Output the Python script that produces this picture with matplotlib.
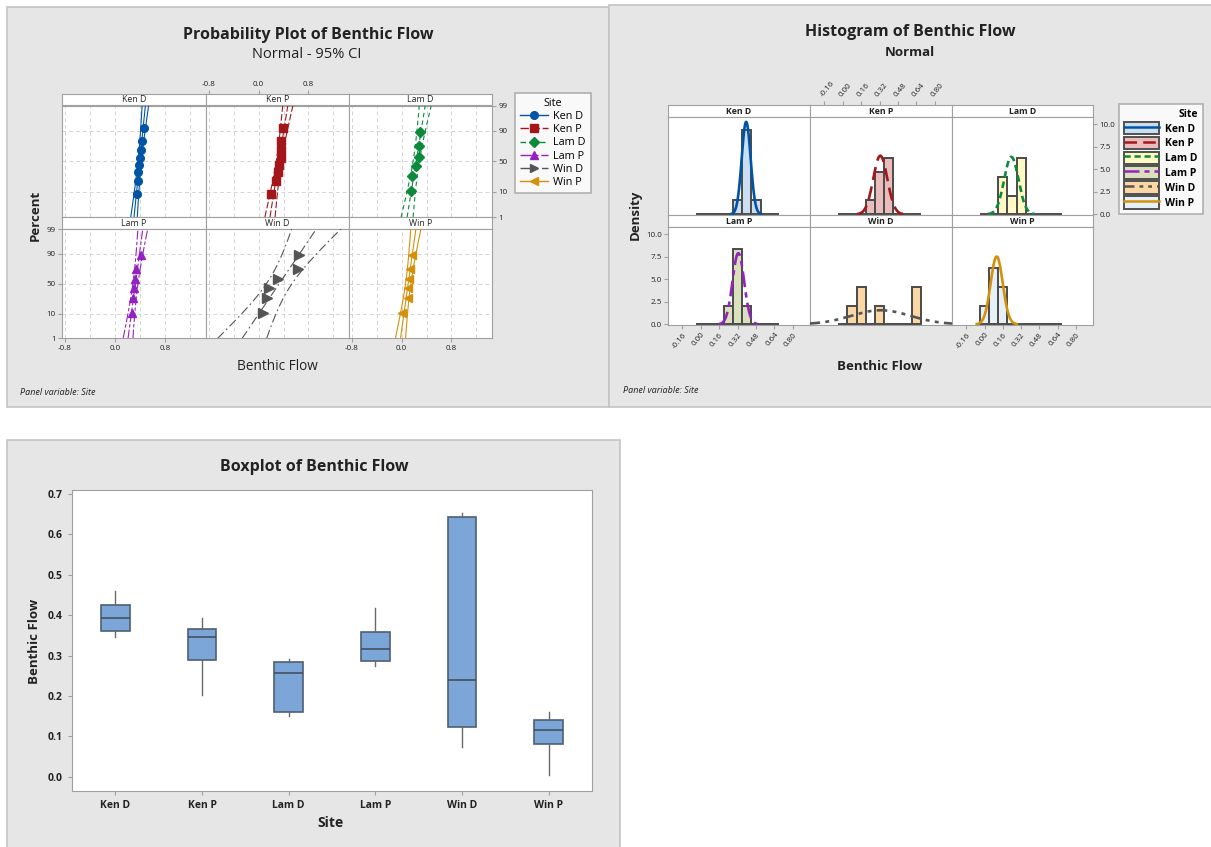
import statistics

import matplotlib.pyplot as plt
import numpy as np
from matplotlib.lines import Line2D
from matplotlib.patches import Patch, Rectangle

W, H = 1211, 847

plt.rcParams["font.family"] = ["Open Sans", "DejaVu Sans"]

# benthic flow observations per site
sites = ["Ken D", "Ken P", "Lam D", "Lam P", "Win D", "Win P"]
ken_d = [0.345, 0.3605, 0.361, 0.385, 0.402, 0.415, 0.428, 0.459]
ken_p = [0.202, 0.285, 0.305, 0.330, 0.3615, 0.363, 0.366, 0.394]
lam_d = [0.150, 0.165, 0.236, 0.2805, 0.281, 0.292]
lam_p = [0.274, 0.292, 0.310, 0.323, 0.339, 0.418]
win_d = [0.073, 0.139, 0.170, 0.309, 0.639, 0.652]
win_p = [0.005, 0.1063, 0.111, 0.119, 0.1333, 0.160]
flow = dict(zip(sites, [ken_d, ken_p, lam_d, lam_p, win_d, win_p]))

pct_ticks = [1, 10, 50, 90, 99]
pp_xticks = [-0.8, 0.0, 0.8]
hist_xticks = [-0.16, 0.0, 0.16, 0.32, 0.48, 0.64, 0.80]
hist_yticks = [0.0, 2.5, 5.0, 7.5, 10.0]
bin_edges = np.linspace(-0.04, 0.68, 10)

line_col = {"Ken D": "#0054A6", "Ken P": "#A3171B", "Lam D": "#0A8A3A",
            "Lam P": "#9422C0", "Win D": "#555555", "Win P": "#D4900A"}
fill_col = {"Ken D": "#CADDF1", "Ken P": "#EABCBC", "Lam D": "#FFF9C4",
            "Lam P": "#DADFBC", "Win D": "#FBD7A3", "Win P": "#E6F0F8"}
markers = {"Ken D": "o", "Ken P": "s", "Lam D": "D", "Lam P": "^",
           "Win D": ">", "Win P": "<"}
pp_ls = {"Ken D": "-", "Ken P": (0, (6, 2)), "Lam D": (0, (4, 3)),
         "Lam P": (0, (8, 2, 3, 2)), "Win D": (0, (8, 3, 1.5, 3)), "Win P": "-"}
hist_ls = {"Ken D": "-", "Ken P": (0, (5, 2.5)), "Lam D": (0, (2.5, 1.5)),
           "Lam P": (0, (6, 2, 2, 2)), "Win D": (0, (4, 2, 1.5, 2, 1.5, 2)),
           "Win P": "-"}

FRAME = "#A0A0A0"
TXT = "#222222"
norm = statistics.NormalDist()


def box(x0, y0, x1, y1):
    return [x0 / W, 1 - y1 / H, (x1 - x0) / W, (y1 - y0) / H]


def fig_text(x, y, s, **kw):
    fig.text(x / W, 1 - y / H, s, color=TXT, **kw)


def background(x0, y0, x1, y1):
    fig.add_artist(Rectangle((x0 / W, 1 - y1 / H), (x1 - x0) / W, (y1 - y0) / H,
                             transform=fig.transFigure, fc="#E6E6E6",
                             ec="#C4C4C4", lw=1.2, zorder=-5))


def minitab_quartile(vals, q):
    x = np.sort(vals)
    pos = q * (len(x) + 1)
    lo = int(np.floor(pos))
    frac = pos - lo
    return x[lo - 1] + frac * (x[lo] - x[lo - 1])


def trellis(cols, rows, xlim, xticks, xlabels, strip_weight):
    # 2 x 3 panel layout with a title strip above each panel
    axes, strips = {}, {}
    k = 0
    for s0, s1, p1 in rows:
        for c in range(3):
            site = sites[k]
            k += 1
            x0, x1 = cols[c], cols[c + 1]
            strip = fig.add_axes(box(x0, s0, x1, s1))
            strip.set_xlim(xlim)
            strip.set_xticks(xticks)
            strip.set_xticklabels(xlabels)
            strip.set_yticks([])
            strip.text(0.5, 0.5, site, ha="center", va="center",
                       fontsize=6.3, color=TXT, fontweight=strip_weight,
                       transform=strip.transAxes)
            ax = fig.add_axes(box(x0, s1, x1, p1))
            ax.set_xlim(xlim)
            ax.set_xticks(xticks)
            ax.set_xticklabels(xlabels)
            for a in (strip, ax):
                for sp in a.spines.values():
                    sp.set_color(FRAME)
                a.tick_params(which="both", bottom=False, top=False,
                              left=False, right=False, labelbottom=False,
                              labeltop=False, labelleft=False,
                              labelright=False, labelsize=5.8, length=3,
                              color=FRAME, labelcolor=TXT, pad=1.5)
            axes[site] = ax
            strips[site] = strip
    strips["Ken P"].tick_params(top=True, labeltop=True)
    axes["Lam D"].tick_params(right=True, labelright=True)
    axes["Lam P"].tick_params(left=True, labelleft=True, bottom=True,
                              labelbottom=True)
    axes["Win P"].tick_params(bottom=True, labelbottom=True)
    return axes, strips


fig = plt.figure(figsize=(W / 100, H / 100), dpi=100)
background(7, 7, 609, 407)
background(609, 5, 1215, 407)
background(7, 440, 620, 851)

# ---------------- probability plot ----------------
pp_axes, _ = trellis([62, 206, 349, 492], [(94, 105.5, 217), (217, 229, 338.5)],
                     (-0.843, 1.45), pp_xticks, ["-0.8", "0.0", "0.8"],
                     "normal")
z_lo, z_hi = norm.inv_cdf(0.01), norm.inv_cdf(0.99)
zz = np.linspace(z_lo, z_hi, 120)
for site, ax in pp_axes.items():
    x = np.sort(flow[site])
    n = len(x)
    ranks = (np.arange(1, n + 1) - 0.3) / (n + 0.4)
    zpts = np.array([norm.inv_cdf(p) for p in ranks])
    mu, sd = x.mean(), x.std(ddof=1)
    fit = mu + sd * zz
    half = 1.96 * sd * np.sqrt(1 / n + zz ** 2 / (2 * n))
    c = line_col[site]
    for xs in (fit, fit - half, fit + half):
        ax.plot(xs, zz, color=c, ls=pp_ls[site], lw=0.8, zorder=3)
    ms = 7 if site == "Win D" else 5.5
    ax.plot(x, zpts, ls="none", marker=markers[site], color=c, ms=ms, zorder=4)
    ax.set_ylim(z_lo, z_hi)
    ax.set_yticks([norm.inv_cdf(p / 100) for p in pct_ticks])
    ax.set_yticklabels([str(p) for p in pct_ticks])
    for gx in [-0.8, -0.4, 0.0, 0.4, 0.8, 1.2]:
        ax.axvline(gx, color="#D4D4D4", ls=(0, (4, 3)), lw=0.7, zorder=1)
    for p in [10, 50, 90]:
        ax.axhline(norm.inv_cdf(p / 100), color="#D4D4D4", ls=(0, (4, 3)),
                   lw=0.7, zorder=1)

pp_handles = [Line2D([], [], color=line_col[s], ls=pp_ls[s], lw=1,
                     marker=markers[s], ms=5.5) for s in sites]
leg = fig.legend(pp_handles, sites, title="Site", loc="upper left",
                 bbox_to_anchor=(515 / W, 1 - 93 / H), frameon=True,
                 fancybox=False, edgecolor=FRAME, fontsize=7.8,
                 title_fontsize=7.8, handlelength=2.6, handletextpad=0.5,
                 labelspacing=0.2, borderpad=0.45, borderaxespad=0)
leg.get_frame().set_linewidth(1.2)

fig_text(308, 35, "Probability Plot of Benthic Flow", ha="center",
         va="center", fontsize=11.5, fontweight="bold")
fig_text(307, 54, "Normal - 95% CI", ha="center", va="center", fontsize=10.5)
fig_text(35, 215, "Percent", ha="center", va="center", rotation=90,
         fontsize=9.5, fontweight="bold")
fig_text(277, 366, "Benthic Flow", ha="center", va="center", fontsize=9.8)
fig_text(20, 392, "Panel variable: Site", ha="left", va="center",
         fontsize=6.5, style="italic")

# ---------------- histogram ----------------
h_axes, h_strips = trellis([668, 810, 952, 1093],
                           [(105, 117, 215), (215, 227, 325)],
                           (-0.286, 0.95), hist_xticks,
                           [f"{t:.2f}" for t in hist_xticks], "bold")
xx = np.linspace(-0.29, 0.95, 400)
for site, ax in h_axes.items():
    vals = np.array(flow[site])
    ax.hist(vals, bins=bin_edges, density=True, color=fill_col[site],
            edgecolor="#4A4A4A", linewidth=1.4, zorder=2)
    mu, sd = vals.mean(), vals.std(ddof=1)
    pdf = np.exp(-0.5 * ((xx - mu) / sd) ** 2) / (sd * np.sqrt(2 * np.pi))
    keep = pdf > 0.03
    ax.plot(xx[keep], pdf[keep], color=line_col[site], ls=hist_ls[site],
            lw=1.9, zorder=3)
    ax.set_ylim(-0.08, 10.8)
    ax.set_yticks(hist_yticks)
    ax.set_yticklabels([f"{t:.1f}" for t in hist_yticks])

for t in h_strips["Ken P"].get_xticklabels():
    t.set_rotation(50)
    t.set_ha("left")
    t.set_va("bottom")
    t.set_rotation_mode("anchor")
for site in ("Lam P", "Win P"):
    for t in h_axes[site].get_xticklabels():
        t.set_rotation(50)
        t.set_ha("right")
        t.set_va("top")
        t.set_rotation_mode("anchor")

h_handles = [(Patch(fc=fill_col[s], ec="#505050", lw=1.4),
              Line2D([], [], color=line_col[s], ls=hist_ls[s], lw=1.8))
             for s in sites]
leg2 = fig.legend(h_handles, sites, title="Site", loc="upper left",
                  bbox_to_anchor=(1119 / W, 1 - 104 / H), frameon=True,
                  fancybox=False, edgecolor=FRAME, fontsize=7.5,
                  title_fontsize=7.5, handlelength=3.4, handleheight=1.5,
                  handletextpad=0.6, labelspacing=0.2, borderpad=0.45,
                  borderaxespad=0, alignment="right")
leg2.get_frame().set_linewidth(1.2)
for t in leg2.get_texts() + [leg2.get_title()]:
    t.set_fontweight("bold")

fig_text(910, 32, "Histogram of Benthic Flow", ha="center", va="center",
         fontsize=11.5, fontweight="bold")
fig_text(910, 52, "Normal", ha="center", va="center", fontsize=9.5,
         fontweight="bold")
fig_text(635, 215, "Density", ha="center", va="center", rotation=90,
         fontsize=9.5, fontweight="bold")
fig_text(880, 367, "Benthic Flow", ha="center", va="center", fontsize=9.5,
         fontweight="bold")
fig_text(623, 390, "Panel variable: Site", ha="left", va="center",
         fontsize=6.5, style="italic")

# ---------------- boxplot ----------------
bx = fig.add_axes(box(72, 490, 592, 791))
stats = []
for site in sites:
    vals = np.sort(flow[site])
    q1 = minitab_quartile(vals, 0.25)
    q3 = minitab_quartile(vals, 0.75)
    iqr = q3 - q1
    inside = vals[(vals >= q1 - 1.5 * iqr) & (vals <= q3 + 1.5 * iqr)]
    stats.append({"med": float(np.median(vals)), "q1": q1, "q3": q3,
                  "whislo": inside.min(), "whishi": inside.max(),
                  "fliers": []})
bx.bxp(stats, positions=range(1, 7), widths=0.33, patch_artist=True,
       showcaps=False,
       boxprops=dict(facecolor="#7DA6D8", edgecolor="#4F5F73", lw=1.2),
       medianprops=dict(color="#3F4A58", lw=1.1),
       whiskerprops=dict(color="#6A6A6A", lw=1))
bx.set_xlim(0.5, 6.5)
bx.set_ylim(-0.035, 0.71)
bx.set_xticks(range(1, 7))
bx.set_xticklabels(sites, fontweight="bold")
yt = np.arange(0, 0.71, 0.1)
bx.set_yticks(yt)
bx.set_yticklabels([f"{v:.1f}" for v in yt], fontweight="bold")
bx.tick_params(labelsize=7.5, color=FRAME, labelcolor=TXT, length=3)
for sp in bx.spines.values():
    sp.set_color(FRAME)

fig_text(314, 467, "Boxplot of Benthic Flow", ha="center", va="center",
         fontsize=11.5, fontweight="bold")
fig_text(34, 641, "Benthic Flow", ha="center", va="center", rotation=90,
         fontsize=9.5, fontweight="bold")
fig_text(330, 823, "Site", ha="center", va="center", fontsize=10,
         fontweight="bold")

fig.savefig("out.png", dpi=100)
